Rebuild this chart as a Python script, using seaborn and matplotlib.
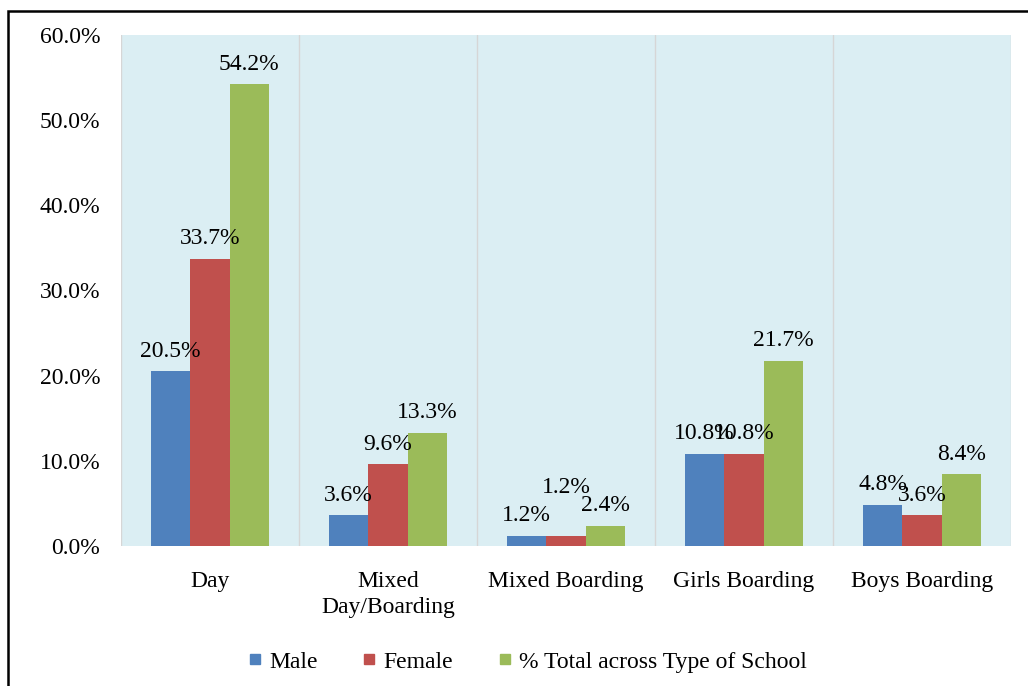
import matplotlib
matplotlib.use("Agg")
import matplotlib.pyplot as plt
import seaborn as sns
import pandas as pd
from matplotlib.patches import Rectangle
from matplotlib.lines import Line2D
from matplotlib.ticker import FixedLocator

categories = ["Day", "Mixed\nDay/Boarding", "Mixed Boarding", "Girls Boarding", "Boys Boarding"]
series = ["Male", "Female", "% Total across Type of School"]
male = [20.5, 3.6, 1.2, 10.8, 4.8]
female = [33.7, 9.6, 1.2, 10.8, 3.6]
total = [54.2, 13.3, 2.4, 21.7, 8.4]
colors = ["#4F81BD", "#C0504D", "#9BBB59"]
yticks = [0, 10, 20, 30, 40, 50, 60]

rows = []
for s, vals in zip(series, [male, female, total]):
    for c, v in zip(categories, vals):
        rows.append({"School": c, "Series": s, "Value": v})
df = pd.DataFrame(rows)

sns.set_style("white")
plt.rcParams["font.family"] = ["Liberation Serif", "DejaVu Serif"]
plt.rcParams["text.color"] = "black"
plt.rcParams["xtick.color"] = "black"
plt.rcParams["ytick.color"] = "black"

FS = 17

fig = plt.figure(figsize=(10.28, 6.86), dpi=100)
ax = fig.add_axes([121 / 1028, 1 - 546 / 686, 890 / 1028, 511 / 686])

sns.barplot(data=df, x="School", y="Value", hue="Series", order=categories,
            hue_order=series, palette=colors, width=0.663, gap=0,
            linewidth=0, edgecolor="none", saturation=1, ax=ax, legend=False)

ax.set_facecolor("#DBEEF3")
ax.set_xlim(-0.5, len(categories) - 0.5)
ax.set_ylim(0, 60)
ax.set_yticks(yticks)
ax.set_yticklabels([f"{t:.1f}%" for t in yticks])
ax.set_xlabel("")
ax.set_ylabel("")
ax.xaxis.set_minor_locator(FixedLocator([i - 0.5 for i in range(len(categories) + 1)]))
ax.grid(False)
ax.grid(True, which="minor", axis="x", color="#D6D6D6", linewidth=1)
ax.tick_params(axis="both", which="both", length=0)
ax.tick_params(axis="y", labelsize=FS, pad=15)
ax.tick_params(axis="x", labelsize=FS, pad=18)
for lbl in ax.get_xticklabels():
    lbl.set_linespacing(1.3)
for sp in ax.spines.values():
    sp.set_visible(False)

for si, (cont, vals) in enumerate(zip(ax.containers, [male, female, total])):
    anns = ax.bar_label(cont, labels=[f"{v:.1f}%" for v in vals], padding=7,
                        fontsize=FS, color="black")
    # Female label in "Mixed Boarding" sits higher in the reference
    if si == 1:
        anns[2].xyann = (0, 27)

handles = [Line2D([0], [0], marker="s", linestyle="none", markersize=7,
                  markerfacecolor=c, markeredgecolor=c) for c in colors]
fig.legend(handles, series, loc="center", bbox_to_anchor=(0.513, 0.035),
           ncol=3, frameon=False, fontsize=FS, handlelength=0.6,
           handletextpad=0.3, columnspacing=1.9)

fig.patches.append(Rectangle((8 / 1028, -0.05), 1.2, 1 - 11 / 686 + 0.05,
                             transform=fig.transFigure, fill=False,
                             edgecolor="black", linewidth=1.8, zorder=10))

fig.savefig("out.png", dpi=100)
